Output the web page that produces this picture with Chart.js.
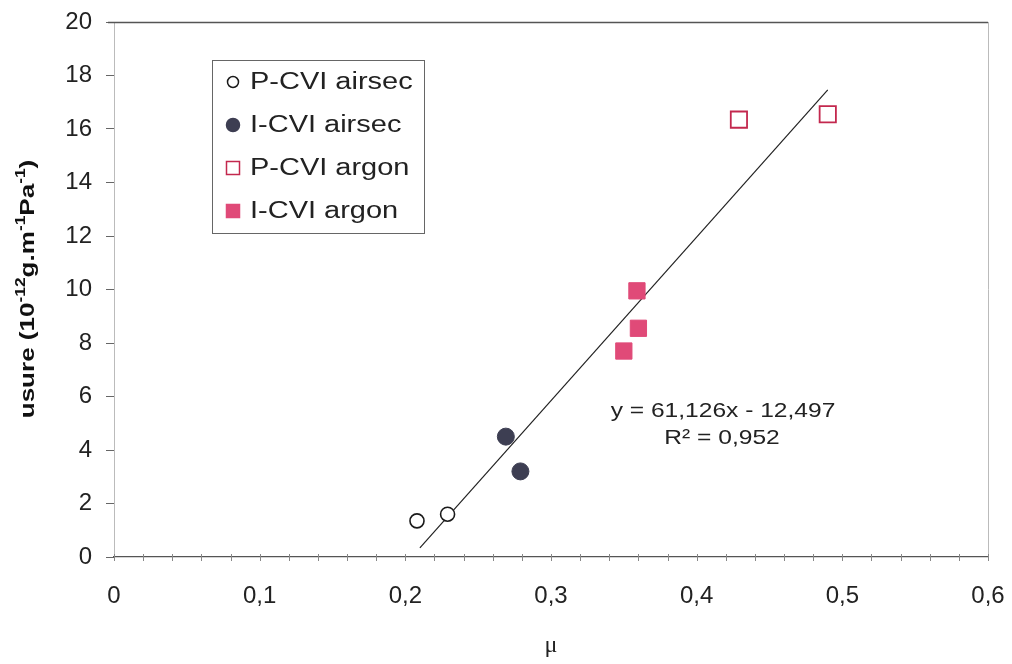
<!DOCTYPE html>
<html>
<head>
<meta charset="utf-8">
<script src="https://cdn.jsdelivr.net/npm/chart.js@4.4.0/dist/chart.umd.min.js"></script>
<style>
  html, body { margin: 0; padding: 0; background: #fff; }
  #wrap { width: 1012px; height: 664px; }
</style>
</head>
<body>
<div id="wrap"><canvas id="myChart" width="1012" height="664"></canvas></div>
<script>
// valeurs
const pAirX = [0.208, 0.229];
const pAirY = [1.35, 1.6];
const iAirX = [0.269, 0.279];
const iAirY = [4.5, 3.2];
const pArgX = [0.429, 0.49];
const pArgY = [16.35, 16.55];
const iArgX = [0.359, 0.36, 0.35];
const iArgY = [9.95, 8.55, 7.7];
// droite de regression (extremites lues)
const trendX = [0.21, 0.49];
const trendY = [0.34, 17.46];
const xTicks = [0, 0.1, 0.2, 0.3, 0.4, 0.5, 0.6];
const yTicks = [0, 2, 4, 6, 8, 10, 12, 14, 16, 18, 20];
const seriesNames = ['P-CVI airsec', 'I-CVI airsec', 'P-CVI argon', 'I-CVI argon'];
const equation = ['y = 61,126x - 12,497', 'R\u00B2 = 0,952'];

const pts = (xs, ys) => xs.map((x, i) => ({ x: x, y: ys[i] }));
const FONT = "'Liberation Sans', Arial, sans-serif";

// texte etire horizontalement (le scan est un peu elargi)
function wideText(ctx, txt, x, y, sx, align) {
  ctx.save();
  ctx.translate(x, y);
  ctx.scale(sx, 1);
  ctx.textAlign = align;
  ctx.fillText(txt, 0, 0);
  ctx.restore();
}

// cadre, petites graduations, legende, titre y, equation
const extras = {
  id: 'extras',
  afterDraw(chart) {
    const ctx = chart.ctx;
    const a = chart.chartArea;
    const xs = chart.scales.x;
    ctx.save();
    // cadre haut et droit
    ctx.lineWidth = 1.3;
    ctx.strokeStyle = '#555';
    ctx.beginPath();
    ctx.moveTo(a.left - 6, a.top + 0.5);
    ctx.lineTo(a.right, a.top + 0.5);
    ctx.stroke();
    ctx.strokeStyle = '#bbb';
    ctx.lineWidth = 1;
    ctx.beginPath();
    ctx.moveTo(a.right + 0.5, a.top);
    ctx.lineTo(a.right + 0.5, a.bottom);
    ctx.stroke();
    // graduations x tous les 0,02
    ctx.strokeStyle = '#888';
    for (let i = 0; i <= 30; i++) {
      const px = Math.round(xs.getPixelForValue(i * 0.02)) + 0.5;
      ctx.beginPath();
      ctx.moveTo(px, a.bottom - 3);
      ctx.lineTo(px, a.bottom + 4);
      ctx.stroke();
    }
    // legende
    const lx = 212, ly = 60, lw = 212, lh = 173;
    ctx.fillStyle = '#fff';
    ctx.fillRect(lx, ly, lw, lh);
    ctx.strokeStyle = '#666';
    ctx.lineWidth = 1;
    ctx.strokeRect(lx + 0.5, ly + 0.5, lw, lh);
    const rowY = [82, 125, 168, 211];
    ctx.font = '23px ' + FONT;
    ctx.textBaseline = 'middle';
    chart.data.datasets.slice(0, 4).forEach((ds, i) => {
      const cx = 233, cy = rowY[i];
      ctx.lineWidth = 1.5;
      ctx.strokeStyle = ds.borderColor;
      ctx.fillStyle = ds.backgroundColor;
      if (ds.pointStyle === 'circle') {
        ctx.beginPath();
        ctx.arc(cx, cy, i === 0 ? 5.5 : 6.5, 0, Math.PI * 2);
        ctx.fill();
        ctx.stroke();
      } else {
        ctx.fillRect(cx - 6.5, cy - 6.5, 13, 13);
        ctx.strokeRect(cx - 6.5, cy - 6.5, 13, 13);
      }
      ctx.fillStyle = '#222';
      wideText(ctx, ds.label, 250, cy + 1, 1.26, 'left');
    });
    // equation
    ctx.font = '21px ' + FONT;
    ctx.fillStyle = '#222';
    wideText(ctx, equation[0], 723, 411, 1.17, 'center');
    wideText(ctx, equation[1], 722, 438, 1.17, 'center');
    // titre axe y avec exposants
    const parts = [['usure (10', 0], ['-12', 1], ['g.m', 0], ['-1', 1], ['Pa', 0], ['-1', 1], [')', 0]];
    const big = 'bold 21px ' + FONT, small = 'bold 14px ' + FONT;
    let total = 0;
    parts.forEach(p => { ctx.font = p[1] ? small : big; total += ctx.measureText(p[0]).width; });
    ctx.translate(34, 289);
    ctx.rotate(-Math.PI / 2);
    ctx.scale(1.24, 1);
    ctx.textAlign = 'left';
    ctx.textBaseline = 'alphabetic';
    ctx.fillStyle = '#111';
    let cx = -total / 2;
    parts.forEach(p => {
      ctx.font = p[1] ? small : big;
      ctx.fillText(p[0], cx, p[1] ? -9 : 0);
      cx += ctx.measureText(p[0]).width;
    });
    ctx.restore();
  }
};

const chartArea = document.getElementById('myChart').getContext('2d');
const myChart = new Chart(chartArea, {
  type: 'scatter',
  data: {
    datasets: [
      {
        label: seriesNames[0],
        data: pts(pAirX, pAirY),
        pointStyle: 'circle',
        pointRadius: 7,
        backgroundColor: '#ffffff',
        borderColor: '#1a1a1a',
        borderWidth: 1.6,
      },
      {
        label: seriesNames[1],
        data: pts(iAirX, iAirY),
        pointStyle: 'circle',
        pointRadius: 8.5,
        backgroundColor: '#3d3e52',
        borderColor: '#3d3e52',
        borderWidth: 1,
      },
      {
        label: seriesNames[2],
        data: pts(pArgX, pArgY),
        pointStyle: 'rect',
        pointRadius: 11.5,
        backgroundColor: '#ffffff',
        borderColor: '#c3284e',
        borderWidth: 1.8,
      },
      {
        label: seriesNames[3],
        data: pts(iArgX, iArgY),
        pointStyle: 'rect',
        pointRadius: 11.5,
        backgroundColor: '#e04a78',
        borderColor: '#e04a78',
        borderWidth: 1,
      },
      {
        type: 'line',
        label: 'tendance',
        data: pts(trendX, trendY),
        borderColor: '#222',
        borderWidth: 1.2,
        pointRadius: 0,
        fill: false,
      },
    ]
  },
  options: {
    responsive: false,
    animation: false,
    layout: { padding: { top: 22, right: 24, left: 0, bottom: 0 } },
    plugins: { legend: { display: false }, tooltip: { enabled: false } },
    scales: {
      x: {
        type: 'linear',
        min: 0,
        max: 0.6,
        afterBuildTicks: s => { s.ticks = xTicks.map(v => ({ value: v })); },
        afterFit: s => { s.height = 107; s.paddingLeft = 0; s.paddingRight = 0; },
        grid: { display: false },
        border: { display: true, color: '#555', width: 1.3 },
        ticks: {
          padding: 17,
          color: '#222',
          font: { family: FONT, size: 24 },
          maxRotation: 0,
          callback: v => String(Math.round(v * 10) / 10).replace('.', ','),
        },
        title: {
          display: true,
          text: '\u03BC',
          color: '#222',
          font: { family: "'Liberation Serif', 'DejaVu Serif', serif", size: 24 },
          padding: { top: 0, bottom: 4 },
        },
      },
      y: {
        min: 0,
        max: 20,
        afterBuildTicks: s => { s.ticks = yTicks.map(v => ({ value: v })); },
        afterFit: s => { s.width = 114; s.paddingTop = 0; s.paddingBottom = 0; },
        grid: { display: true, drawOnChartArea: false, tickLength: 8, color: '#666' },
        border: { display: true, color: '#bbb', width: 1 },
        ticks: {
          padding: 14,
          color: '#222',
          font: { family: FONT, size: 24 },
        },
      }
    }
  },
  plugins: [extras]
});
</script>
</body>
</html>
